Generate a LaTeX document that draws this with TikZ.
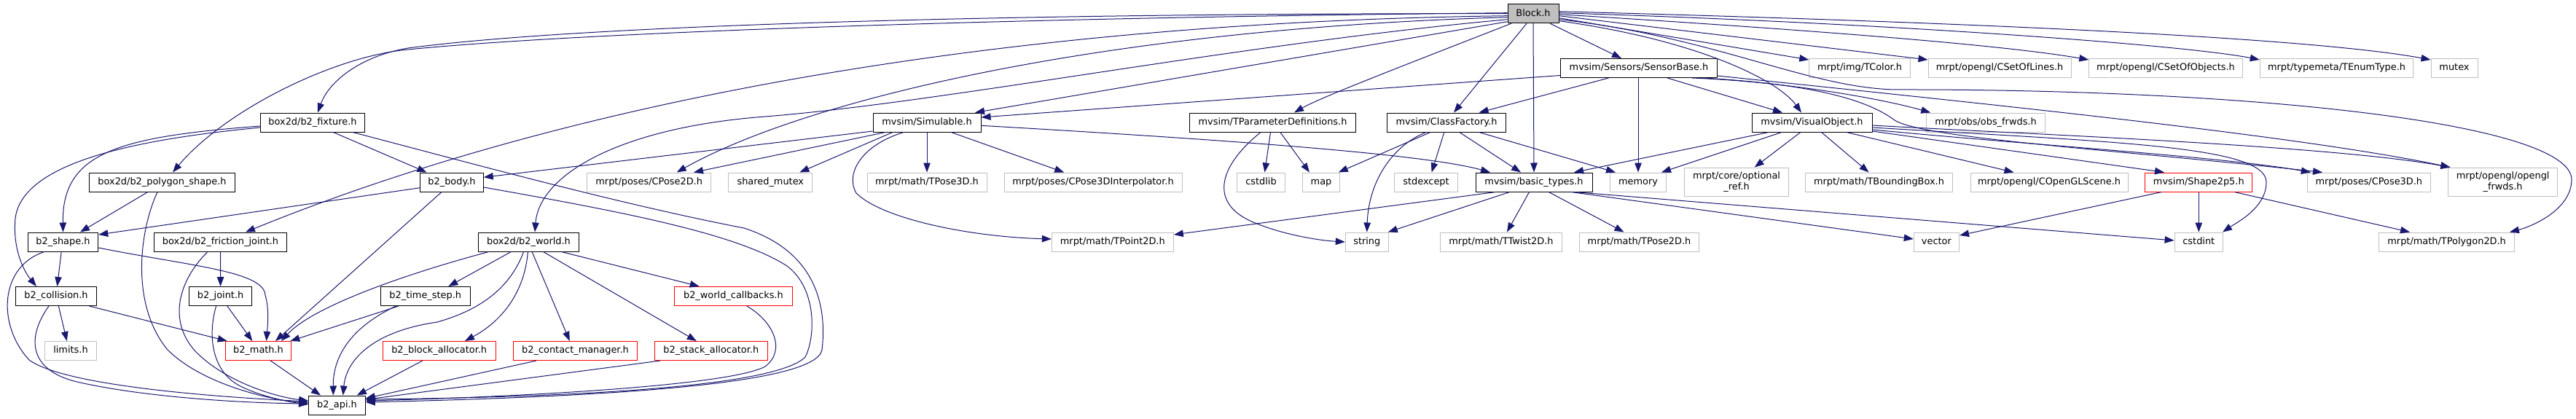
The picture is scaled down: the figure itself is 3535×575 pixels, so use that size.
\documentclass[tikz,border=0pt]{standalone}
\usepackage{fontspec}
\setmainfont{DejaVu Sans}
\usetikzlibrary{arrows.meta}
\definecolor{edgec}{HTML}{191970}
\definecolor{grayb}{HTML}{BFBFBF}
\begin{document}
\begin{tikzpicture}[x=1pt,y=-1pt,
  base/.style={line width=1pt, fill=white, inner sep=0pt, minimum height=26pt, font=\fontsize{12.9pt}{15pt}\selectfont, anchor=center},
  one/.style={base, text height=9.6pt, text depth=2.9pt},
  bk/.style={one, draw=black},
  gr/.style={one, draw=grayb},
  rd/.style={one, draw=red},
  grtwo/.style={base, draw=grayb, minimum height=39.3pt, align=center},
  e/.style={draw=edgec, line width=1pt, -{Triangle[length=13pt,width=9.5pt]}},
]
\path[fill=white,use as bounding box] (0,0) rectangle (3535,575);

% row 0
\node[bk, fill=grayb, minimum width=70pt] (block) at (2104,18.7) {Block.h};
% row 1
\node[bk, minimum width=215pt] (sensor) at (2249,93.5) {mvsim/Sensors/SensorBase.h};
\node[gr, minimum width=138.5pt] (tcolor) at (2552,93.5) {mrpt/img/TColor.h};
\node[gr, minimum width=196pt] (csetlines) at (2744,93.5) {mrpt/opengl/CSetOfLines.h};
\node[gr, minimum width=210.5pt] (csetobj) at (2972,93.5) {mrpt/opengl/CSetOfObjects.h};
\node[gr, minimum width=210.5pt] (tenum) at (3206.5,93.5) {mrpt/typemeta/TEnumType.h};
\node[gr, minimum width=64pt] (mutex) at (3368,93.5) {mutex};
% row 2
\node[bk, minimum width=143pt] (fixture) at (429,168) {box2d/b2\_fixture.h};
\node[bk, minimum width=148pt] (simul) at (1272,168) {mvsim/Simulable.h};
\node[bk, minimum width=228pt] (tparam) at (1746.5,168) {mvsim/TParameterDefinitions.h};
\node[bk, minimum width=163pt] (classf) at (1985,168) {mvsim/ClassFactory.h};
\node[bk, minimum width=165pt] (visual) at (2486.5,168) {mvsim/VisualObject.h};
\node[gr, minimum width=162.5pt] (obsfw) at (2725,168) {mrpt/obs/obs\_frwds.h};
% row 3
\node[bk, minimum width=199.5pt] (polysh) at (222.5,250) {box2d/b2\_polygon\_shape.h};
\node[bk, minimum width=86.5pt] (body) at (620,250) {b2\_body.h};
\node[gr, minimum width=169.5pt] (cpose2d) at (890.7,250) {mrpt/poses/CPose2D.h};
\node[gr, minimum width=115pt] (shmutex) at (1057.3,250) {shared\_mutex};
\node[gr, minimum width=164pt] (tpose3d) at (1272,250) {mrpt/math/TPose3D.h};
\node[gr, minimum width=244pt] (cpinterp) at (1500,250) {mrpt/poses/CPose3DInterpolator.h};
\node[gr, minimum width=65.5pt] (cstdlib) at (1730.5,250) {cstdlib};
\node[gr, minimum width=50.5pt] (map) at (1813,250) {map};
\node[gr, minimum width=87pt] (stdexc) at (1957,250) {stdexcept};
\node[bk, minimum width=160pt] (basic) at (2105,250) {mvsim/basic\_types.h};
\node[gr, minimum width=77pt] (memory) at (2248,250) {memory};
\node[grtwo, minimum width=143pt] (optref) at (2383,249.7) {mrpt/core/optional\\\_ref.h};
\node[gr, minimum width=201.5pt] (tbbox) at (2578.5,250) {mrpt/math/TBoundingBox.h};
\node[gr, minimum width=216pt] (cogl) at (2812,250) {mrpt/opengl/COpenGLScene.h};
\node[rd, minimum width=147pt] (shape25) at (3017.3,250) {mvsim/Shape2p5.h};
\node[gr, minimum width=169pt] (cpose3d) at (3250.8,250) {mrpt/poses/CPose3D.h};
\node[grtwo, minimum width=149.5pt] (oglfw) at (3434.6,249.7) {mrpt/opengl/opengl\\\_frwds.h};
% row 4
\node[bk, minimum width=96.5pt] (b2shape) at (86.5,332) {b2\_shape.h};
\node[bk, minimum width=182.5pt] (fricj) at (302.5,332) {box2d/b2\_friction\_joint.h};
\node[bk, minimum width=138pt] (world) at (725.5,332) {box2d/b2\_world.h};
\node[gr, minimum width=167pt] (tpoint2d) at (1526.8,332) {mrpt/math/TPoint2D.h};
\node[gr, minimum width=59pt] (string) at (1875.8,332) {string};
\node[gr, minimum width=167pt] (ttwist) at (2060,332) {mrpt/math/TTwist2D.h};
\node[gr, minimum width=164pt] (tpose2d) at (2249.5,332) {mrpt/math/TPose2D.h};
\node[gr, minimum width=62.3pt] (vector) at (2657.4,332) {vector};
\node[gr, minimum width=66.5pt] (cstdint) at (3017.3,332) {cstdint};
\node[gr, minimum width=185.6pt] (tpoly) at (3357.6,332) {mrpt/math/TPolygon2D.h};
% row 5
\node[bk, minimum width=110.6pt] (coll) at (77,406.5) {b2\_collision.h};
\node[bk, minimum width=86.5pt] (joint) at (302.6,406.5) {b2\_joint.h};
\node[bk, minimum width=123pt] (tstep) at (583.8,406.5) {b2\_time\_step.h};
\node[rd, minimum width=161.5pt] (wcb) at (1006.4,406.5) {b2\_world\_callbacks.h};
% row 6
\node[gr, minimum width=71pt] (limits) at (97,481.5) {limits.h};
\node[rd, minimum width=90.7pt] (math) at (354.5,481.5) {b2\_math.h};
\node[rd, minimum width=154.6pt] (blocka) at (602.7,481.5) {b2\_block\_allocator.h};
\node[rd, minimum width=170pt] (contact) at (789.5,481.5) {b2\_contact\_manager.h};
\node[rd, minimum width=154.6pt] (stacka) at (975.8,481.5) {b2\_stack\_allocator.h};
% row 7
\node[bk, minimum width=77.7pt] (api) at (462.5,556) {b2\_api.h};

% ---- Block.h
\draw[e] (block.south) -- (basic.north);
\draw[e] ([xshift=23pt]block.south) -- ([xshift=-24pt]sensor.north);
\draw[e] ([xshift=-9pt]block.south) -- ([xshift=10pt]classf.north);
\draw[e] ([xshift=-30pt]block.south) .. controls (1900,100) and (1810,135) .. ([xshift=29.5pt]tparam.north);
\draw[e] ([yshift=-10pt]block.east) .. controls (2330,55) and (2440,110) .. ([xshift=-14.5pt]visual.north);
\draw[e] ([yshift=-6pt]block.east) -- ([yshift=-2pt]tcolor.north west);
\draw[e] ([yshift=-3pt]block.east) -- ([yshift=-2pt]csetlines.north west);
\draw[e] ([yshift=-1pt]block.east) .. controls (2500,42) and (2750,62) .. ([yshift=-2pt]csetobj.north west);
\draw[e] ([yshift=1pt]block.east) .. controls (2600,32) and (3000,62) .. ([yshift=-2pt]tenum.north west);
\draw[e] ([yshift=3pt]block.east) .. controls (2600,28) and (3150,48) .. ([yshift=-2pt]mutex.north west);
\draw[e] ([yshift=-8pt]block.east) .. controls (2350,50) and (2480,120) .. (2600,123) .. controls (3100,122) and (3530,170) .. (3529,247) .. controls (3528,290) and (3470,312) .. ([xshift=-7pt]tpoly.north east);
\draw[e] (block.west) .. controls (1400,18) and (800,34) .. (560,66) .. controls (490,78) and (450,115) .. ([xshift=7pt]fixture.north);
\draw[e] ([yshift=1pt]block.west) .. controls (1400,24) and (800,44) .. (560,68) .. controls (460,77) and (310,150) .. ([xshift=14.5pt]polysh.north);
\draw[e] ([yshift=-3pt]block.west) .. controls (1400,30) and (800,130) .. ([xshift=34.5pt]fricj.north);
\draw[e] ([yshift=-5pt]block.west) .. controls (1500,40) and (1100,140) .. ([xshift=38pt]cpose2d.north);
\draw[e] ([yshift=-8pt]block.west) .. controls (1700,60) and (1300,140) .. (1050,160) .. controls (850,175) and (740,240) .. ([xshift=8.5pt]world.north);
\draw[e] ([yshift=-11pt]block.west) -- ([xshift=66pt]simul.north);

% ---- SensorBase
\draw[e] ([yshift=-10pt]sensor.west) -- ([yshift=7pt]simul.east);
\draw[e] ([xshift=-41.5pt]sensor.south) -- ([xshift=44.6pt]classf.north);
\draw[e] ([xshift=-1pt]sensor.south) -- (memory.north);
\draw[e] ([xshift=39pt]sensor.south) -- ([xshift=-40.5pt]visual.north);
\draw[e] ([xshift=73pt]sensor.south) .. controls (2450,112) and (2580,135) .. ([xshift=6pt]obsfw.north west);
\draw[e] ([xshift=87pt]sensor.south) .. controls (2480,115) and (2560,135) .. (2600,165) .. controls (2640,190) and (2900,205) .. ([xshift=-63.8pt]cpose3d.north);
\draw[e] ([yshift=-10.5pt]sensor.east) .. controls (2700,140) and (3150,185) .. ([xshift=3pt]oglfw.north west);

% ---- VisualObject
\draw[e] ([xshift=-59.5pt]visual.south) -- ([xshift=55pt]basic.north);
\draw[e] ([xshift=-41.5pt]visual.south) -- ([xshift=32pt]memory.north);
\draw[e] ([xshift=-15.7pt]visual.south) -- ([xshift=24.7pt]optref.north);
\draw[e] ([xshift=13pt]visual.south) -- ([xshift=-14pt]tbbox.north);
\draw[e] ([xshift=47.5pt]visual.south) -- ([xshift=-48.5pt]cogl.north);
\draw[e] ([yshift=-12pt]visual.east) -- ([xshift=-47.3pt]shape25.north);
\draw[e] ([yshift=-10pt]visual.east) .. controls (2800,200) and (3050,215) .. ([xshift=-80pt]cpose3d.north);
\draw[e] ([yshift=-4pt]visual.east) .. controls (2800,185) and (3200,200) .. ([xshift=3pt]oglfw.north west);
\draw[e] ([yshift=-7pt]visual.east) .. controls (2900,195) and (3110,200) .. (3110,250) .. controls (3110,285) and (3070,305) .. ([xshift=-1pt]cstdint.north east);

% ---- ClassFactory
\draw[e] ([xshift=-22pt]classf.south) -- ([xshift=-2pt]map.north east);
\draw[e] ([xshift=-28pt]classf.south) .. controls (1910,200) and (1878,250) .. (string.north);
\draw[e] ([xshift=-3.2pt]classf.south) -- ([xshift=7.6pt]stdexc.north);
\draw[e] ([xshift=17.8pt]classf.south) -- ([xshift=-18pt]basic.north);
\draw[e] ([xshift=44.6pt]classf.south) -- ([xshift=-31pt]memory.north);

% ---- Simulable
\draw[e] (simul.south) -- (tpose3d.north);
\draw[e] ([xshift=33.2pt]simul.south) -- ([xshift=-39.8pt]cpinterp.north);
\draw[e] ([yshift=-4.3pt]simul.east) .. controls (1650,190) and (1950,210) .. ([xshift=-60pt]basic.north);
\draw[e] ([yshift=-12pt]simul.west) -- ([yshift=6.7pt]body.east);
\draw[e] ([xshift=-57pt]simul.south) -- ([xshift=61.3pt]cpose2d.north);
\draw[e] ([xshift=-47pt]simul.south) -- ([xshift=40pt]shmutex.north);
\draw[e] ([xshift=-32pt]simul.south) .. controls (1180,200) and (1160,240) .. (1175,265) .. controls (1210,300) and (1330,325) .. ([yshift=4pt]tpoint2d.west);

% ---- TParameterDefinitions
\draw[e] ([xshift=-3pt]tparam.south) -- ([xshift=5pt]cstdlib.north);
\draw[e] ([xshift=10.3pt]tparam.south) -- ([xshift=-16pt]map.north);
\draw[e] ([xshift=-16.5pt]tparam.south) .. controls (1670,230) and (1660,280) .. (1720,305) .. controls (1760,322) and (1810,330) .. (string.west);

% ---- basic_types
\draw[e] ([xshift=-52.4pt]basic.south) -- ([yshift=10pt]tpoint2d.east);
\draw[e] ([xshift=-33.3pt]basic.south) -- ([xshift=-1pt]string.north east);
\draw[e] ([xshift=-6.5pt]basic.south) -- ([xshift=8pt]ttwist.north);
\draw[e] ([xshift=20.3pt]basic.south) -- ([xshift=-21pt]tpose2d.north);
\draw[e] ([xshift=51pt]basic.south) -- ([yshift=4pt]vector.west);
\draw[e] ([xshift=54.7pt]basic.south) -- ([yshift=2pt]cstdint.west);

% ---- Shape2p5
\draw[e] ([xshift=-51pt]shape25.south) -- ([yshift=9pt]vector.east);
\draw[e] (shape25.south) -- (cstdint.north);
\draw[e] ([xshift=49pt]shape25.south) -- ([xshift=-50.6pt]tpoly.north);

% ---- box2d
\draw[e] ([xshift=28.3pt]fixture.south) -- ([xshift=-34.5pt]body.north);
\draw[e] ([yshift=-5pt]fixture.west) .. controls (160,188) and (85,210) .. (b2shape.north);
\draw[e] ([yshift=-7pt]fixture.west) .. controls (200,190) and (30,220) .. (21,300) .. controls (17,345) and (35,375) .. ([xshift=-27pt]coll.north);
\draw[e] ([xshift=55pt]fixture.south) .. controls (650,225) and (850,280) .. (1021,313) .. controls (1120,345) and (1135,420) .. (1128,480) .. controls (1120,530) and (800,545) .. ([yshift=4pt]api.east);

\draw[e] ([yshift=-7.7pt]body.west) -- ([yshift=10pt]b2shape.east);
\draw[e] ([xshift=-14pt]body.south) -- ([xshift=23.5pt]math.north);
\draw[e] ([yshift=-7pt]body.east) .. controls (850,290) and (1010,320) .. (1080,365) .. controls (1120,395) and (1120,460) .. (1105,490) .. controls (1065,530) and (800,545) .. ([yshift=8pt]api.east);

\draw[e] ([xshift=-19.7pt]polysh.south) -- ([xshift=23.5pt]b2shape.north);
\draw[e] ([xshift=-6.5pt]polysh.south) .. controls (190,320) and (180,420) .. (230,480) .. controls (280,530) and (380,550) .. ([yshift=3pt]api.west);

\draw[e] ([xshift=-2.3pt]b2shape.south) -- ([xshift=1.5pt]coll.north);
\draw[e] ([yshift=-8pt]b2shape.east) .. controls (260,365) and (362,372) .. (364,405) .. controls (370,425) and (367,450) .. ([xshift=11pt]math.north);
\draw[e] ([xshift=-25.5pt]b2shape.south) .. controls (0,365) and (-5,445) .. (40,494) .. controls (90,530) and (300,545) .. ([yshift=5pt]api.west);

\draw[e] (fricj.south) -- (joint.north);
\draw[e] ([xshift=-17.5pt]fricj.south) .. controls (245,385) and (230,440) .. (268,482) .. controls (310,525) and (380,545) .. ([yshift=6pt]api.west);

\draw[e] ([xshift=3.4pt]coll.south) -- ([xshift=-5.2pt]limits.north);
\draw[e] ([xshift=45.5pt]coll.south) -- ([xshift=3pt]math.north west);
\draw[e] ([xshift=-10pt]coll.south) .. controls (35,465) and (40,510) .. (110,525) .. controls (200,545) and (330,553) .. ([yshift=2pt]api.west);

\draw[e] ([xshift=9.3pt]joint.south) -- ([xshift=-8.2pt]math.north);
\draw[e] ([xshift=-6pt]joint.south) .. controls (285,460) and (290,510) .. (330,530) .. controls (360,545) and (400,552) .. ([yshift=1pt]api.west);

\draw[e] ([xshift=16.7pt]math.south) -- ([xshift=-22.5pt]api.north);

\draw[e] ([xshift=-54.7pt]world.south) .. controls (560,375) and (430,420) .. ([xshift=31.5pt]math.north);
\draw[e] ([xshift=-24.1pt]world.south) -- ([xshift=31.5pt]tstep.north);
\draw[e] ([xshift=-6.9pt]world.south) .. controls (700,395) and (660,425) .. (600,442) .. controls (510,455) and (475,495) .. ([xshift=8.2pt]api.north);
\draw[e] ([xshift=-1.1pt]world.south) .. controls (720,400) and (690,440) .. ([xshift=35.3pt]blocka.north);
\draw[e] ([xshift=4.6pt]world.south) -- ([xshift=-7.7pt]contact.north);
\draw[e] ([xshift=20pt]world.south) -- ([xshift=-20pt]stacka.north);
\draw[e] ([xshift=44.8pt]world.south) -- ([xshift=-46.7pt]wcb.north);

\draw[e] ([xshift=-36.6pt]tstep.south) -- ([xshift=-2pt]math.north east);
\draw[e] ([xshift=-40.4pt]tstep.south) .. controls (480,450) and (457,490) .. ([xshift=-5.2pt]api.north);

\draw[e] ([xshift=-22.9pt]blocka.south) -- ([xshift=27.3pt]api.north);
\draw[e] ([xshift=-53.6pt]contact.south) -- ([yshift=9.3pt]api.east);
\draw[e] ([xshift=8pt]stacka.south west) -- ([yshift=7.7pt]api.east);
\draw[e] ([xshift=18.4pt]wcb.south) .. controls (1060,440) and (1080,480) .. (1050,503) .. controls (1000,530) and (700,545) .. ([yshift=6pt]api.east);
\end{tikzpicture}
\end{document}
